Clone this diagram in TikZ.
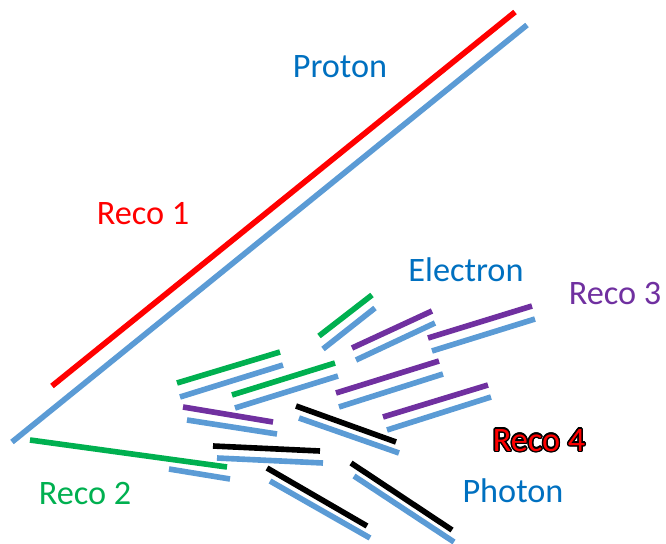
\documentclass[tikz,border=0pt]{standalone}
\usepackage{fontspec}
\setmainfont{Carlito}
\usepackage{contour}
\contourlength{0.8pt}
\definecolor{lineblue}{HTML}{5B9BD5}
\definecolor{textblue}{HTML}{0070C0}
\definecolor{recogreen}{HTML}{00B050}
\definecolor{recopurple}{HTML}{7030A0}
\definecolor{recored}{HTML}{FF0000}

\begin{document}
\begin{tikzpicture}[x=0.02cm, y=-0.02cm, line width=3.2pt,
  truth/.style={draw=lineblue},
  reco/.style={draw=#1},
  lbl/.style={font=\fontsize{19.5}{22}\selectfont, inner sep=0pt}]

\useasboundingbox (0,0) rectangle (666,544);

% Labels
\node[lbl, text=textblue] (proton) at (340,67) {Proton};
\node[lbl, text=recored] (reco1) at (143,214) {Reco 1};
\node[lbl, text=textblue] (electron) at (466,270) {Electron};
\node[lbl, text=recopurple] (reco3) at (615,293) {Reco 3};
\node[lbl] (reco4) at (539,441) {\contour{black}{\textcolor{recored}{Reco 4}}};
\node[lbl, text=recogreen] (reco2) at (85,493) {Reco 2};
\node[lbl, text=textblue] (photon) at (513,491) {Photon};

% Proton track and Reco 1
\draw[reco=recored] (52,386) -- (515,12);
\draw[truth] (12,442) -- (527,25);

% Electron shower and Reco 2
\draw[reco=recogreen] (30,440) -- (227,467);
\draw[truth] (169,469) -- (230,479);
\draw[reco=recogreen] (319,336) -- (372,295);
\draw[truth] (323,349) -- (375,308);
\draw[reco=recogreen] (177,383) -- (280,352);
\draw[truth] (180,397) -- (283,365);
\draw[reco=recogreen] (232,395) -- (335,363);
\draw[truth] (235,408) -- (338,376);

% Reco 3
\draw[reco=recopurple] (352,348) -- (432,311);
\draw[truth] (356,360) -- (435,323);
\draw[reco=recopurple] (428,338) -- (532,306);
\draw[truth] (432,351) -- (535,319);
\draw[reco=recopurple] (336,393) -- (439,361);
\draw[truth] (339,407) -- (443,374);
\draw[reco=recopurple] (383,417) -- (488,385);
\draw[truth] (387,430) -- (491,397);
\draw[reco=recopurple] (183,407) -- (273,422);
\draw[truth] (187,420) -- (277,434);

% Photon shower and Reco 4
\draw[reco=black] (296,406) -- (396,442);
\draw[truth] (299,418) -- (399,453);
\draw[reco=black] (213,446) -- (320,451);
\draw[truth] (217,458) -- (323,463);
\draw[reco=black] (267,468) -- (367,526);
\draw[truth] (270,481) -- (370,538);
\draw[reco=black] (351,463) -- (452,530);
\draw[truth] (354,476) -- (454,542);

\end{tikzpicture}
\end{document}
